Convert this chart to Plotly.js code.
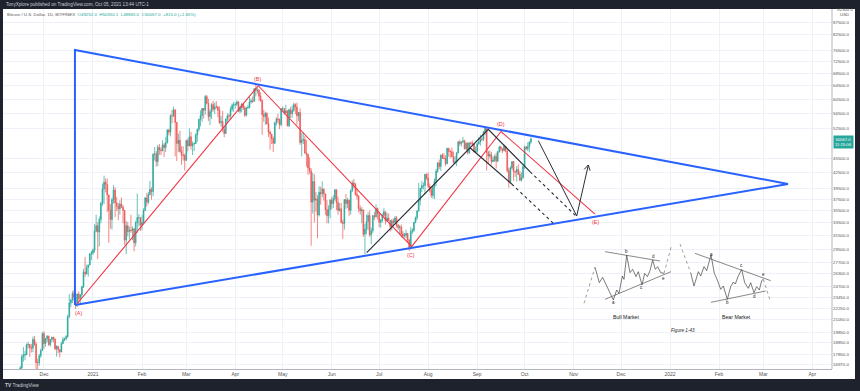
<!DOCTYPE html>
<html><head><meta charset="utf-8">
<script src="https://cdn.plot.ly/plotly-3.0.1.min.js"></script>
<style>html,body{margin:0;padding:0;background:#fff;overflow:hidden}#chart{width:860px;height:391px}</style>
</head><body><div id="chart"></div>
<script>
// ---------- DATA (BTC/USD daily, Bitfinex, values in thousands USD) ----------
const startDate = '2020-11-05';
const firstOpen = 14.13;
const lastOpen = 49.252;
const closes = [
 15.59,15.58,14.83,15.48,15.33,15.30,15.70,16.28,16.32,16.07,15.96,16.73,17.65,17.78,17.82,18.68,18.70,18.42,18.38,19.16,18.72,17.15,17.14,17.72,18.18,19.70,
 18.79,19.22,19.45,18.70,19.15,19.36,19.17,18.32,18.55,18.25,18.04,18.80,19.14,19.25,19.44,21.35,22.80,23.14,23.87,23.48,22.75,23.82,23.25,23.72,24.66,26.44,26.25,27.03,27.37,28.84,29.00,
 29.37,32.19,33.00,32.02,34.03,36.82,39.37,40.67,40.24,38.24,35.54,34.01,37.39,39.16,36.83,36.18,35.79,36.63,36.07,35.55,30.83,33.00,32.10,32.29,32.27,32.52,30.43,33.47,34.32,34.32,33.11,
 33.54,35.52,37.68,36.95,38.32,39.24,38.87,46.45,46.57,44.87,48.00,47.45,47.30,48.60,47.99,49.17,52.15,51.67,55.89,55.85,57.49,54.13,48.93,49.70,47.09,46.34,46.19,45.14,
 49.63,48.38,50.54,48.43,48.88,48.88,50.97,52.39,54.92,55.88,57.83,57.33,61.24,59.30,55.65,56.95,58.93,57.65,58.30,58.28,57.35,54.10,54.34,52.30,51.32,55.03,55.86,55.78,57.64,58.78,58.92,
 59.00,59.66,57.10,58.20,59.13,57.99,56.00,58.08,58.09,59.78,60.00,59.86,63.58,62.99,63.10,61.36,60.14,56.19,55.66,56.50,53.80,51.70,51.19,50.10,49.00,54.02,55.03,54.82,53.55,57.75,
 57.83,56.63,57.21,53.24,57.47,56.43,57.38,58.93,58.28,55.86,56.75,49.15,49.72,49.88,46.76,46.45,43.54,42.91,36.96,40.78,37.30,37.53,34.77,38.71,38.49,39.30,38.44,35.69,34.62,35.68,37.30,
 36.69,37.57,39.19,36.88,35.53,35.80,33.55,33.38,37.39,36.70,37.31,35.55,39.02,40.52,40.14,38.35,38.05,35.82,35.48,35.60,31.68,32.51,33.68,34.66,31.60,32.24,34.65,34.48,35.87,35.04,
 33.57,33.90,34.69,35.29,33.80,34.24,33.86,32.88,33.81,33.51,34.26,33.09,32.73,32.82,31.78,31.42,31.53,31.80,30.84,29.79,32.14,32.31,33.58,34.29,35.43,37.28,39.48,40.00,40.02,42.23,41.50,
 39.87,39.15,38.15,39.74,40.87,42.84,44.61,43.83,46.29,45.60,45.55,44.43,47.83,47.10,47.05,45.98,44.70,44.80,46.74,49.34,48.90,49.29,49.53,47.70,48.99,46.85,49.07,48.90,48.81,46.99,47.15,
 48.84,49.28,49.94,49.92,51.76,52.66,46.86,46.06,46.38,44.85,45.16,46.03,44.96,47.10,48.12,47.75,47.30,48.31,47.27,42.95,40.69,43.54,44.88,42.83,42.72,43.19,42.24,41.03,41.52,43.79,
 48.14,47.71,48.20,49.25,50.067
];
const highs = [
 15.77,15.96,15.76,15.64,15.84,15.46,15.95,16.34,16.48,16.32,16.17,16.88,17.86,18.48,18.15,18.80,18.96,18.75,18.77,19.42,19.49,18.92,17.48,17.88,18.34,19.86,
 19.92,19.31,19.57,19.52,19.18,19.41,19.42,19.29,18.63,18.55,18.27,18.95,19.40,19.30,19.56,21.56,23.78,23.28,24.17,24.29,24.10,23.84,24.11,23.80,24.77,26.87,28.42,27.40,27.40,28.99,29.30,
 29.60,33.30,34.79,33.60,34.50,36.94,40.37,41.95,41.38,41.38,38.26,36.60,37.80,40.10,39.70,37.90,36.80,37.30,37.80,36.40,35.60,33.80,33.60,32.90,34.80,32.90,32.60,33.80,38.50,34.90,34.30,
 34.70,35.90,37.90,38.60,38.80,40.90,39.70,46.70,48.10,47.20,48.60,48.80,48.00,49.70,49.00,50.50,52.40,52.50,56.30,57.50,58.35,57.50,54.20,51.30,52.00,48.30,48.30,46.60,
 49.75,50.20,52.60,51.70,49.40,49.20,51.40,52.50,55.10,57.30,58.00,58.00,61.70,61.70,60.60,57.60,59.40,60.00,59.50,59.90,58.60,58.40,55.80,57.20,53.10,55.10,56.50,56.50,58.30,59.30,59.80,
 59.50,60.20,60.00,58.50,59.30,59.40,58.60,58.20,58.90,61.20,60.70,61.30,63.80,64.85,63.80,63.50,62.50,60.40,57.50,57.00,56.80,55.40,52.10,51.10,50.60,54.30,55.50,56.40,55.20,57.90,
 58.40,57.90,58.90,57.20,57.80,58.30,58.60,59.50,59.30,59.50,56.90,57.90,51.50,51.60,50.70,49.80,46.60,45.80,43.50,42.50,42.20,38.80,38.20,39.90,39.80,40.80,39.50,38.20,37.30,36.40,37.50,
 37.90,38.20,39.40,39.30,37.90,36.80,36.80,34.00,37.50,38.40,37.70,37.40,39.30,41.00,41.30,40.50,39.50,38.20,36.40,36.10,35.70,33.30,34.80,35.20,35.50,32.70,34.70,35.30,36.60,36.00,
 35.00,34.10,35.00,35.90,35.30,35.10,35.00,33.90,34.10,34.20,34.60,34.60,33.30,33.10,33.20,32.20,31.90,32.40,31.90,31.00,32.80,32.60,33.60,34.50,35.50,40.50,39.50,40.90,40.60,42.30,42.40,
 42.60,40.40,39.70,39.90,41.40,43.30,44.70,45.30,46.40,46.70,46.70,46.20,47.90,47.90,47.40,48.00,47.10,46.00,47.00,49.40,49.80,49.40,50.50,49.80,49.20,49.30,49.20,49.40,49.60,48.90,48.20,
 49.10,50.40,51.00,50.50,51.90,52.90,52.90,47.30,47.30,47.00,45.90,46.40,46.80,47.20,48.40,48.40,47.80,48.70,48.30,47.30,43.60,43.90,44.90,45.00,42.90,43.90,44.30,42.80,42.60,44.10,
 48.40,48.30,49.20,49.50,50.3501
];
const lows = [
 14.10,15.19,14.34,14.71,14.81,15.07,15.27,15.44,15.95,15.71,15.80,15.87,16.56,17.23,17.35,17.76,18.35,17.63,18.00,18.02,18.58,16.33,16.52,16.89,17.55,18.17,
 18.33,18.51,18.93,18.57,18.52,18.92,18.90,18.20,17.65,17.92,17.58,18.03,18.73,19.00,19.05,19.28,21.25,22.35,22.80,23.07,22.16,22.37,22.80,22.72,23.44,24.50,25.83,26.10,25.88,27.33,28.00,
 28.70,29.00,32.00,28.13,29.90,33.40,36.30,36.57,38.72,35.25,30.42,32.53,32.40,36.70,34.40,35.40,33.90,34.80,35.90,33.40,30.10,28.80,31.40,30.90,31.90,30.80,29.20,29.90,31.90,32.90,32.20,
 32.30,33.40,35.40,36.20,36.60,38.20,37.40,38.00,45.10,43.80,43.90,46.30,46.30,47.10,45.90,47.00,48.90,50.90,50.60,53.90,55.50,46.00,45.00,47.00,46.80,44.20,45.10,43.00,
 45.00,47.10,48.20,47.50,46.30,47.20,48.80,49.30,51.80,53.10,54.30,55.10,56.10,59.00,54.50,53.40,55.00,57.00,56.30,57.90,55.50,53.70,53.00,51.70,50.40,51.30,53.90,54.70,54.90,57.00,56.90,
 57.90,58.50,56.80,56.50,56.80,57.40,55.50,55.70,57.70,57.90,59.20,59.40,59.80,61.30,62.10,60.00,59.70,51.00,54.30,53.50,53.60,50.50,47.50,48.80,47.00,48.80,53.30,53.90,52.40,53.10,
 57.00,56.10,56.50,53.10,52.90,55.30,55.30,56.90,56.30,53.50,54.50,48.60,46.00,48.80,46.60,43.80,42.10,42.30,30.00,35.00,33.50,35.30,31.10,34.50,36.50,37.80,37.20,34.80,33.40,33.40,34.20,
 35.70,35.90,37.20,35.60,34.80,35.30,33.40,31.00,32.40,35.80,35.90,34.60,34.80,38.80,39.50,38.10,37.40,35.20,34.80,33.40,31.30,28.80,31.70,32.30,31.30,30.20,31.90,33.90,34.30,34.00,
 32.80,32.70,33.50,34.50,33.20,33.60,33.80,32.10,32.30,33.10,33.40,32.70,32.30,31.60,31.20,31.10,31.20,31.10,30.50,29.30,29.50,31.70,32.00,33.40,33.90,35.30,36.40,38.80,39.30,38.30,41.10,
 39.50,38.70,37.70,37.60,37.50,39.90,42.50,43.30,42.90,45.40,45.40,43.90,44.30,45.90,45.60,45.80,44.50,44.30,43.90,46.70,48.40,48.20,49.10,47.60,47.30,46.40,46.50,48.50,48.40,46.90,46.80,
 46.70,48.70,48.40,49.50,49.50,50.90,43.00,44.50,45.60,44.20,44.80,44.80,43.40,44.80,46.80,47.10,46.70,47.10,46.90,42.60,39.60,40.60,43.20,40.90,41.70,40.80,42.10,40.90,40.80,41.40,
 43.30,47.40,47.20,46.90,48.865
];
const lastPrice = 50067.0;

// axis ticks
const monthTicks = ['2020-12-01','2021-01-01','2021-02-01','2021-03-01','2021-04-01','2021-05-01','2021-06-01','2021-07-01','2021-08-01','2021-09-01','2021-10-01','2021-11-01','2021-12-01','2022-01-01','2022-02-01','2022-03-01','2022-04-01'];
const monthLabels = ['Dec','2021','Feb','Mar','Apr','May','Jun','Jul','Aug','Sep','Oct','Nov','Dec','2022','Feb','Mar','Apr'];
const priceTicks = [87500,82500,76500,72500,68500,64500,60500,56500,52500,45500,42500,39500,37500,35500,33500,31500,29500,27700,26300,24700,23450,22250,21050,19850,18850,17850,16970];

// drawings (date, price anchors)
const triangleDates = ['2020-12-20 14:00','2020-12-20 14:00','2022-03-16 14:00','2020-12-20 14:00'];
const trianglePrices = [22590, 76530, 40310, 22590];
const waveDates = ['2020-12-21 21:00','2021-04-15 13:00','2021-07-21 14:00','2021-09-16 02:00','2021-11-14 12:00'];
const wavePrices = [22700, 64500, 29860, 51820, 34910];
const channelDates = ['2021-06-23 03:00','2021-09-08 00:45','2021-10-04 10:00',null,'2021-08-27 11:00','2021-09-22 20:00'];
const channelPrices = [29020, 52360, 42750, null, 47930, 40310];
const dottedDates = ['2021-10-04 10:00','2021-11-02 23:00',null,'2021-09-22 20:00','2021-10-19 04:00'];
const dottedPrices = [42750, 34470, null, 40310, 33400];
const pathDates = ['2021-10-09 16:00','2021-11-02 23:00','2021-11-10 07:00'];
const pathPrices = [49590, 34590, 44140];
const insetBoxDates = ['2021-11-06 07:00','2022-03-14 17:00'];
const insetBoxPrices = [19110, 30390];

// ---------- BUILD ----------
const K = a => a.map(v => v * 1000);
const dates = [];
{ const d = new Date(startDate + 'T00:00:00Z');
  for (let i = 0; i < closes.length; i++) { dates.push(d.toISOString().slice(0,10)); d.setUTCDate(d.getUTCDate()+1); } }
const opens = closes.map((c,i) => i === 0 ? firstOpen : (i === closes.length-1 ? lastOpen : closes[i-1]));

const FONT = 'Liberation Sans, Arial, sans-serif';
const RED = '#f23645', BLUE = '#2962ff', DARK = '#1e222d';
const PX0 = 3, PX1 = 832, PY0 = 9, PY1 = 369;
const px = x => (x - PX0) / (PX1 - PX0);
const py = y => (PY1 - y) / (PY1 - PY0);

const traces = [];
traces.push({
  type:'candlestick', x: dates, open: K(opens), high: K(highs), low: K(lows), close: K(closes),
  increasing:{line:{color:'#26a69a', width:0.7}, fillcolor:'#26a69a'},
  decreasing:{line:{color:'#ef5350', width:0.7}, fillcolor:'#ef5350'},
  whiskerwidth:0, hoverinfo:'skip', showlegend:false
});
const line = (x,y,color,width,dash) => ({type:'scatter', mode:'lines', x, y, line:{color, width, dash: dash||'solid'}, hoverinfo:'skip', showlegend:false, connectgaps:false});
traces.push(line(triangleDates, trianglePrices, BLUE, 2));
traces.push(line(waveDates, wavePrices, RED, 1.1));
traces.push(line(channelDates, channelPrices, '#2a2e39', 1.2));
traces.push(line(dottedDates, dottedPrices, '#2a2e39', 1.1, 'dot'));
traces.push(line(pathDates, pathPrices, '#2a2e39', 1));

// overlay pixel-space drawings (arrowhead + inset figure)
const pl = (pts, color, width, dash) => ({type:'scatter', mode:'lines', xaxis:'x2', yaxis:'y2',
  x: pts.map(p=>p[0]), y: pts.map(p=>p[1]), line:{color, width, dash: dash||'solid'}, hoverinfo:'skip', showlegend:false});
traces.push(pl([[584.2,169.4],[588.3,165],[590.1,170.7]], '#2a2e39', 1));

// inset figure (pasted Elliott triangle illustration; 1/3-pixel units from (580,240))
const ins = pts => pts.map(p => [580 + p[0]/3, 240 + p[1]/3]);
const bullStart = [[12,190],[45,82]];
const bullWave = [[45,82],[58,128],[68,112],[80,138],[100,180],[110,150],[117,160],[127,108],[132,118],[140,45],[150,98],[158,88],[168,110],[175,95],[186,135],[194,100],[202,110],[210,92],[218,60],[226,88],[233,80],[242,98],[252,100]];
const bullEnd = [[252,100],[275,15]];
const bullUpper = [[75,35],[240,63]];
const bullLower = [[75,178],[273,95]];
const bearStart = [[300,12],[332,98]];
const bearWave = [[332,98],[342,138],[355,95],[362,108],[372,80],[380,92],[393,45],[403,100],[412,120],[422,148],[430,138],[442,178],[452,140],[460,126],[466,132],[474,110],[485,88],[494,128],[505,145],[512,128],[522,158],[530,140],[538,150],[545,122],[550,118]];
const bearEnd = [[550,118],[570,180]];
const bearUpper = [[345,40],[572,122]];
const bearLower = [[393,187],[557,153]];
traces.push(pl(ins(bullStart), '#777', 0.7, 'dot'));
traces.push(pl(ins(bullWave), '#444', 0.7));
traces.push(pl(ins(bullEnd), '#777', 0.7, 'dot'));
traces.push(pl(ins(bullUpper), '#555', 0.7));
traces.push(pl(ins(bullLower), '#555', 0.7));
traces.push(pl(ins(bearStart), '#777', 0.7, 'dot'));
traces.push(pl(ins(bearWave), '#444', 0.7));
traces.push(pl(ins(bearEnd), '#777', 0.7, 'dot'));
traces.push(pl(ins(bearUpper), '#555', 0.7));
traces.push(pl(ins(bearLower), '#555', 0.7));

const annotations = [];
const ptxt = (x, y, text, size, color, extra) => annotations.push(Object.assign({xref:'x2', yref:'y2', x, y, text, showarrow:false,
  font:{family:FONT, size, color}, xanchor:'center', yanchor:'middle'}, extra||{}));
ptxt(258, 79, '(B)', 5.5, RED);
ptxt(411, 255, '(C)', 5.5, RED);
ptxt(501, 124, '(D)', 5.5, RED);
ptxt(596, 222, '(E)', 5.5, RED);
ptxt(79, 313, '(A)', 5.5, RED);
const insLab = [['a',100,186],['b',140,34],['c',185,143],['d',220,48],['e',250,115],['a',393,43],['b',443,188],['c',485,77],['d',522,170],['e',550,104]];
insLab.forEach(l => { const p = ins([[l[1], l[2]]])[0]; ptxt(p[0], p[1], l[0], 4.5, '#222'); });
{ const p = ins([[140,232]])[0]; ptxt(p[0], p[1], 'Bull Market', 5.2, '#222'); }
{ const p = ins([[470,232]])[0]; ptxt(p[0], p[1], 'Bear Market', 5.2, '#222'); }
{ const p = ins([[308,272]])[0]; ptxt(p[0], p[1], '<i>Figure 1-43</i>', 4.6, '#222'); }

const ptext = (x, y, text, size, color, extra) => annotations.push(Object.assign({xref:'paper', yref:'paper', x: px(x), y: py(y), text, showarrow:false,
  font:{family:FONT, size, color}, xanchor:'left', yanchor:'middle'}, extra||{}));
ptext(4, 4.6, 'TonyXplore published on TradingView.com, Oct 05, 2021 13:44 UTC-1', 4.6, '#c9ccd6');
ptext(5, 14.5, '<span style="color:#555">Bitcoin / U.S. Dollar, 1D, BITFINEX</span>  <span style="color:#26a69a">O49252.0  H50350.1  L48865.0  C50067.0  +815.0 (+1.65%)</span>', 4.4, '#555');
ptext(3, 385, '<b>TV</b> TradingView', 4.8, '#c9ccd6');
ptext(835, 9.5, '92300.0', 4.4, '#555');
ptext(838, 14.2, 'USD', 4.4, '#555');
annotations.push({xref:'paper', yref:'paper', x: px(843.5), y: py(141.5), text: lastPrice.toFixed(1) + '<br>11:15:06', showarrow:false,
  font:{family:FONT, size:4.2, color:'#ffffff'}, bgcolor:'#26a69a', borderpad:1, xanchor:'center', yanchor:'middle', align:'center'});

const lg = Math.log10;
const shapes = [
  {type:'rect', xref:'x', yref:'y', x0:insetBoxDates[0], x1:insetBoxDates[1], y0:lg(insetBoxPrices[0]), y1:lg(insetBoxPrices[1]), fillcolor:'#ffffff', line:{width:0}, layer:'between'},
  {type:'line', xref:'paper', yref:'y', x0:0, x1:1, y0:lg(lastPrice), y1:lg(lastPrice), line:{color:'rgba(38,166,154,0.45)', width:0.7, dash:'dot'}, layer:'below'},
  {type:'rect', xref:'paper', yref:'paper', x0:px(0), x1:px(860), y0:py(9), y1:py(0), fillcolor:DARK, line:{width:0}, layer:'above'},
  {type:'rect', xref:'paper', yref:'paper', x0:px(0), x1:px(860), y0:py(391), y1:py(379), fillcolor:DARK, line:{width:0}, layer:'above'},
  {type:'rect', xref:'paper', yref:'paper', x0:px(0), x1:px(3), y0:py(391), y1:py(0), fillcolor:DARK, line:{width:0}, layer:'above'},
  {type:'rect', xref:'paper', yref:'paper', x0:px(855), x1:px(860), y0:py(391), y1:py(0), fillcolor:DARK, line:{width:0}, layer:'above'},
  {type:'line', xref:'paper', yref:'paper', x0:px(832), x1:px(832), y0:py(369), y1:py(9), line:{color:'#b2b5be', width:1}, layer:'above'}
];

const layout = {
  width:860, height:391,
  margin:{l:PX0, r:860-PX1, t:PY0, b:391-PY1, pad:0},
  paper_bgcolor:'#ffffff', plot_bgcolor:'#ffffff',
  showlegend:false, dragmode:false,
  font:{family:FONT, size:5, color:'#555'},
  xaxis:{type:'date', range:['2020-11-05 02:00','2022-04-13 10:00'], rangeslider:{visible:false},
    tickmode:'array', tickvals:monthTicks, ticktext:monthLabels, ticks:'', showgrid:true, gridcolor:'#eef1f7', gridwidth:1,
    showline:true, linecolor:'#b2b5be', linewidth:1, zeroline:false, tickfont:{family:FONT, size:5, color:'#555'}, fixedrange:true},
  yaxis:{type:'log', range:[lg(16633), lg(93116)], side:'right',
    tickmode:'array', tickvals:priceTicks, ticktext:priceTicks.map(v => v.toFixed(1)), ticks:'', showgrid:true, gridcolor:'#eef1f7', gridwidth:1,
    showline:false, zeroline:false, tickfont:{family:FONT, size:4.4, color:'#555'}, fixedrange:true},
  xaxis2:{overlaying:'x', range:[PX0, PX1], visible:false, fixedrange:true, anchor:'y2'},
  yaxis2:{overlaying:'y', range:[PY1, PY0], visible:false, fixedrange:true, anchor:'x2'},
  shapes, annotations
};
Plotly.newPlot('chart', traces, layout, {staticPlot:true, displayModeBar:false});
</script></body></html>
